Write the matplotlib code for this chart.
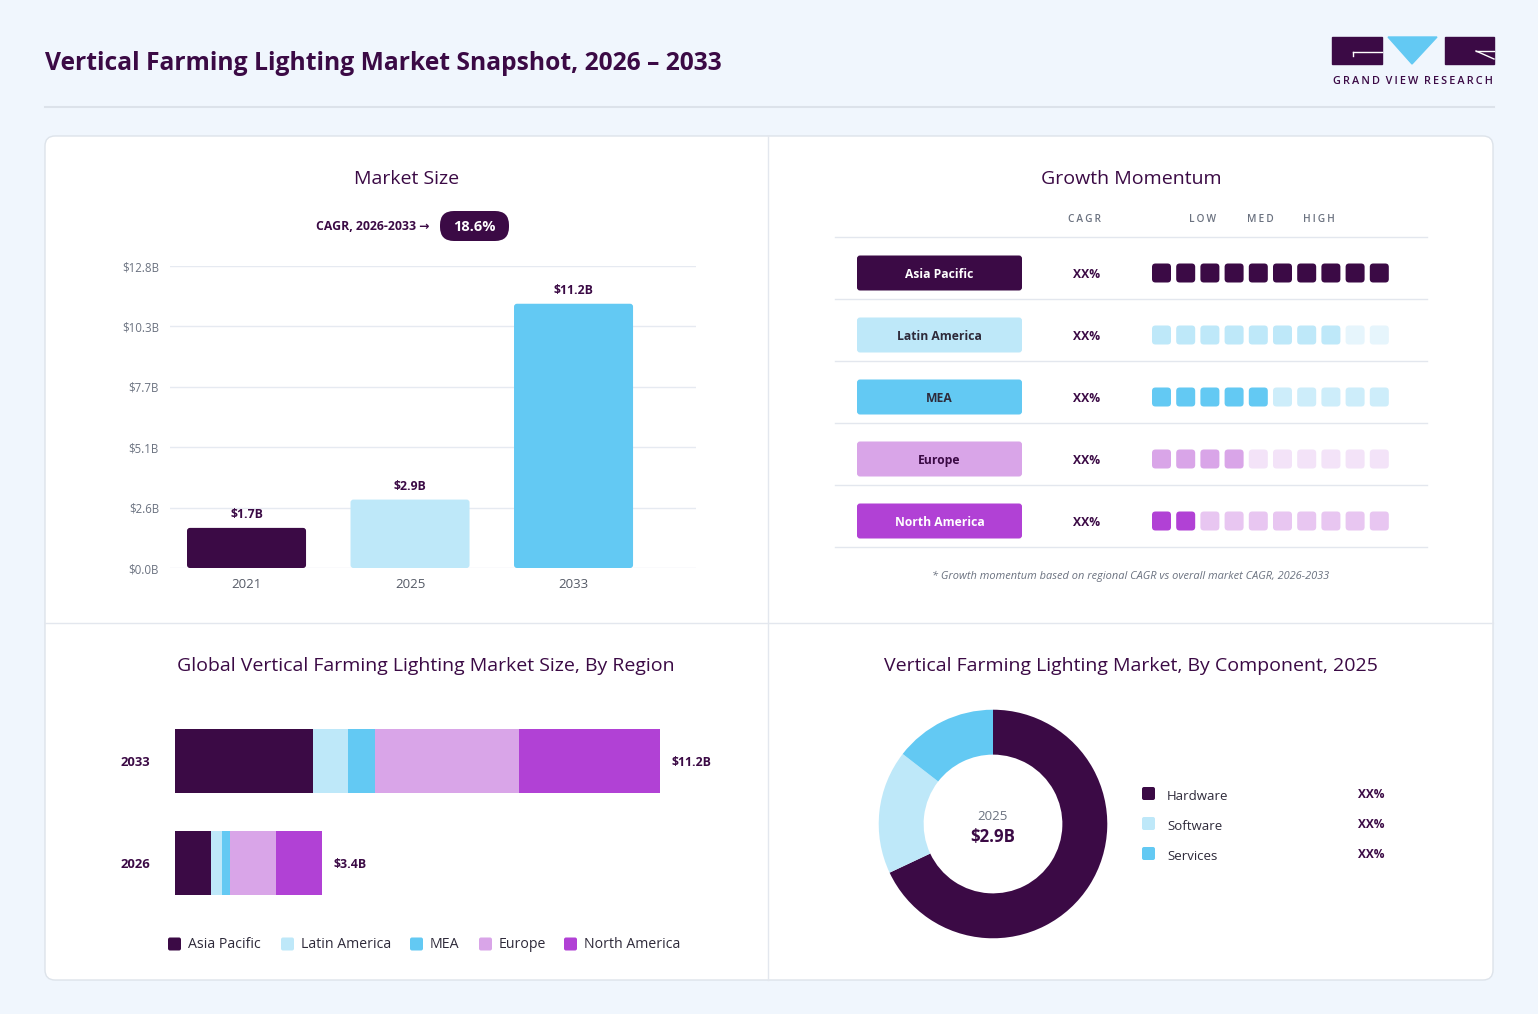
import matplotlib
matplotlib.use("Agg")
import matplotlib.pyplot as plt
from matplotlib.patches import FancyBboxPatch, Rectangle, Polygon

plt.rcParams["font.family"] = ["Open Sans", "DejaVu Sans"]

W, H = 1538, 1014
BG = "#F0F6FD"
INK = "#3B0A45"
GREY = "#6B7280"
TXT = "#2E2A3A"
LINE = "#E3E7EE"

DARK, LBLUE, SKY, LAV, MAG = "#3B0A45", "#BEE8F9", "#63C9F3", "#D9A5E8", "#B141D5"

# market size
years = ["2021", "2025", "2033"]
market = [1.7, 2.9, 11.2]
market_lbl = ["$1.7B", "$2.9B", "$11.2B"]
ytick_vals = [0, 2.56, 5.12, 7.68, 10.24, 12.8]
ytick_lbl = ["$0.0B", "$2.6B", "$5.1B", "$7.7B", "$10.3B", "$12.8B"]
cagr = "18.6%"

# growth momentum
regions = ["Asia Pacific", "Latin America", "MEA", "Europe", "North America"]
momentum = [10, 8, 5, 4, 2]
reg_color = [DARK, LBLUE, SKY, LAV, MAG]
reg_faded = [DARK, "#E6F5FC", "#CDEDFA", "#F3E3F8", "#E8C6F1"]
reg_text = ["white", TXT, TXT, INK, "white"]

# stacked by region
bar_years = ["2026", "2033"]
stack = {
    "Asia Pacific": [0.84, 3.19],
    "Latin America": [0.24, 0.81],
    "MEA": [0.19, 0.62],
    "Europe": [1.07, 3.33],
    "North America": [1.06, 3.25],
}
bar_totals = ["$3.4B", "$11.2B"]

# component donut
components = ["Hardware", "Software", "Services"]
comp_share = [68, 17.5, 14.5]
comp_colors = [DARK, LBLUE, SKY]


def frac(x0, y0, x1, y1):
    return [x0 / W, 1 - y1 / H, (x1 - x0) / W, (y1 - y0) / H]


def rbox(ax, x, y, w, h, r, color, z=1, ec=None, lw=0):
    ax.add_patch(FancyBboxPatch((x, y), w, h, boxstyle=f"round,pad=0,rounding_size={r}",
                                fc=color, ec=ec or color, lw=lw, zorder=z))


fig = plt.figure(figsize=(W / 100, H / 100), dpi=100, facecolor=BG)
bg = fig.add_axes([0, 0, 1, 1])
bg.set_xlim(0, W); bg.set_ylim(H, 0); bg.axis("off")

# header
bg.text(45, 64, "Vertical Farming Lighting Market Snapshot, 2026 – 2033", fontsize=17.7,
        fontweight="bold", color=INK, va="center", ha="left")
bg.plot([45, 1494], [107, 107], color="#DCE2EA", lw=1.5)

# logo
bg.add_patch(Rectangle((1332, 37), 50, 27, color=DARK))
bg.add_patch(Rectangle((1445, 37), 49, 27, color=DARK))
bg.add_patch(Polygon([(1388, 37), (1437, 37), (1412, 64)], color=SKY))
bg.plot([1353, 1382], [52, 52], color="white", lw=1)
bg.plot([1353, 1353], [52, 56], color="white", lw=1)
bg.plot([1476, 1494], [51, 51], color="white", lw=1)
bg.plot([1476, 1494], [51, 59], color="white", lw=1)
bg.text(1413, 82, "  ".join("\u2009".join(w) for w in ["GRAND", "VIEW", "RESEARCH"]),
        fontsize=7.8, fontweight="semibold", color=INK, ha="center", va="center")

# card
rbox(bg, 45, 136, 1448, 844, 10, "white", z=0, ec="#DDE3EA", lw=1)
bg.plot([768, 768], [136, 980], color=LINE, lw=1)
bg.plot([45, 1493], [623, 623], color=LINE, lw=1)

# panel titles
for x, y, t in [(407, 179, "Market Size"), (1131, 179, "Growth Momentum"),
                (426, 666, "Global Vertical Farming Lighting Market Size, By Region"),
                (1131, 666, "Vertical Farming Lighting Market, By Component, 2025")]:
    bg.text(x, y, t, fontsize=14, color=INK, ha="center", va="center")

# CAGR pill
bg.text(430, 227, "CAGR, 2026-2033 →", fontsize=8.8, fontweight="bold", color=INK,
        ha="right", va="center")
rbox(bg, 440, 211, 69, 30, 14, DARK)
bg.text(474.5, 227, cagr, fontsize=10.5, fontweight="bold", color="white", ha="center", va="center")

# market size bars (slightly rounded corners)
ax1 = fig.add_axes(frac(170, 266, 696, 568), facecolor="none")
ax1.set_xlim(-0.468, 2.749); ax1.set_ylim(0, 12.8)
xs = list(range(len(years)))
bars = ax1.bar(xs, market, width=0.728, color=[DARK, LBLUE, SKY], zorder=3)
asp = (12.8 / 302) / (3.217 / 526)
for b in bars:
    b.set_visible(False)
    ax1.add_patch(FancyBboxPatch((b.get_x(), 0), b.get_width(), b.get_height(),
                                 boxstyle="round,pad=0,rounding_size=0.018", mutation_aspect=asp,
                                 fc=b.get_facecolor(), lw=0, zorder=3))
for x, v, lab in zip(xs, market, market_lbl):
    ax1.annotate(lab, (x, v), xytext=(0, 5), textcoords="offset points", ha="center",
                 va="bottom", fontsize=8.8, fontweight="bold", color=INK)
ax1.set_yticks(ytick_vals, ytick_lbl)
ax1.set_xticks(xs, years)
ax1.tick_params(axis="y", length=0, pad=8, labelsize=8.3, labelcolor=GREY)
ax1.tick_params(axis="x", length=0, pad=7, labelsize=9.5, labelcolor="#555A66")
ax1.grid(axis="y", color="#E6EAF1", lw=1, zorder=0)
for s in ax1.spines.values():
    s.set_visible(False)

# growth momentum
for x, t in [(1084, "CAGR"), (1203, "LOW"), (1260, "MED"), (1319, "HIGH")]:
    bg.text(x, 220, "\u2009".join(t), fontsize=7.3, fontweight="semibold", color=GREY,
            ha="center", va="center")
for i in range(len(regions) + 1):
    bg.plot([835, 1427], [237 + 62 * i] * 2, color=LINE, lw=1)
for i, (name, lvl) in enumerate(zip(regions, momentum)):
    yc = 273 + 62 * i
    rbox(bg, 857, yc - 17.5, 165, 35, 3, reg_color[i])
    bg.text(939.5, yc + 1.5, name, fontsize=8.7, fontweight="bold", color=reg_text[i],
            ha="center", va="center")
    bg.text(1087, yc + 1.5, "XX%", fontsize=8.7, fontweight="bold", color=INK, ha="center", va="center")
    for j in range(10):
        c = reg_color[i] if j < lvl else reg_faded[i]
        rbox(bg, 1152 + 24.2 * j, yc - 9.5, 19, 19, 3.5, c)
bg.text(1131, 576, "* Growth momentum based on regional CAGR vs overall market CAGR, 2026-2033",
        fontsize=7.9, style="italic", color=GREY, ha="center", va="center")

# stacked region bars
ax2 = fig.add_axes(frac(175, 700, 735, 920), facecolor="none")
left = [0.0, 0.0]
for name, c in zip(stack, reg_color):
    vals = stack[name]
    ax2.barh([0, 1], vals, left=left, height=0.618, color=c, zorder=3)
    left = [l + v for l, v in zip(left, vals)]
for y, tot, lab in zip([0, 1], left, bar_totals):
    ax2.annotate(lab, (tot, y), xytext=(8, -1), textcoords="offset points", ha="left",
                 va="center", fontsize=8.8, fontweight="bold", color=INK)
ax2.set_xlim(0, 12.93); ax2.set_ylim(-0.559, 1.598)
ax2.set_yticks([0, 1], bar_years)
ax2.set_xticks([])
ax2.tick_params(axis="y", length=0, pad=18, labelsize=9.4, labelcolor=INK)
for t in ax2.get_yticklabels():
    t.set_fontweight("bold")
for s in ax2.spines.values():
    s.set_visible(False)

for x, name, c in zip([168, 281, 410, 479, 564], regions, reg_color):
    rbox(bg, x, 937.5, 13, 13, 2, c)
    bg.text(x + 20, 945, name, fontsize=10.2, color=TXT, ha="left", va="center")

# donut
ax3 = fig.add_axes(frac(873, 704, 1113, 944), facecolor="none")
ax3.pie(comp_share, colors=comp_colors, startangle=90, counterclock=False, radius=1,
        wedgeprops=dict(width=0.393, linewidth=0))
ax3.set_xlim(-1.05, 1.05); ax3.set_ylim(-1.05, 1.05)
ax3.set_aspect("equal")
bg.text(993, 816, "2025", fontsize=9.5, color=GREY, ha="center", va="center")
bg.text(993, 837, "$2.9B", fontsize=12.2, fontweight="bold", color=INK, ha="center", va="center")
for k, (name, c) in enumerate(zip(components, comp_colors)):
    yc = 794 + 30 * k
    rbox(bg, 1142, yc - 7, 13, 13, 2, c)
    bg.text(1167, yc + 2, name, fontsize=9.5, color=TXT, ha="left", va="center")
    bg.text(1384, yc + 1, "XX%", fontsize=8.6, fontweight="bold", color=INK, ha="right", va="center")

fig.savefig("out.png", dpi=100, facecolor=BG)
